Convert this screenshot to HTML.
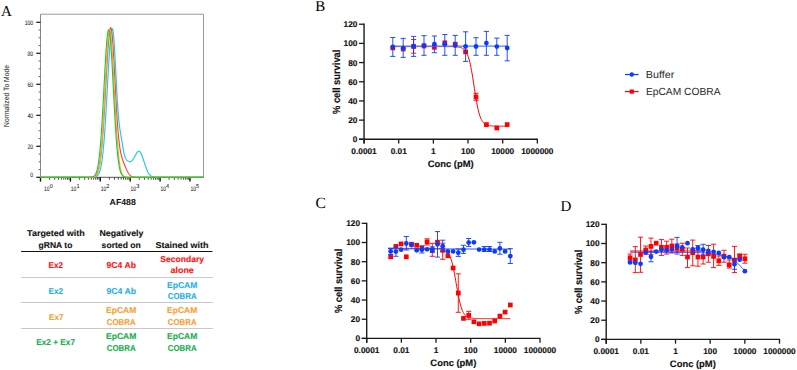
<!DOCTYPE html>
<html><head><meta charset="utf-8"><style>
html,body{margin:0;padding:0;background:#fff;}
svg{display:block;}
text{text-rendering:geometricPrecision;}
</style></head><body>
<svg width="797" height="370" viewBox="0 0 797 370">
<rect width="797" height="370" fill="#fff"/>
<text x="1.00" y="16.20" font-size="15" font-family='"Liberation Serif", serif' fill="#000">A</text>
<text x="315.30" y="10.70" font-size="15" font-family='"Liberation Serif", serif' fill="#000">B</text>
<text x="315.40" y="207.50" font-size="15.5" font-family='"Liberation Serif", serif' fill="#000">C</text>
<text x="560.60" y="211.20" font-size="15" font-family='"Liberation Serif", serif' fill="#000">D</text>
<line x1="40.50" y1="14.20" x2="203.50" y2="14.20" stroke="#9a9a9a" stroke-width="1"/>
<line x1="203.50" y1="14.20" x2="203.50" y2="177.30" stroke="#9a9a9a" stroke-width="1"/>
<line x1="40.50" y1="14.20" x2="40.50" y2="177.80" stroke="#8a8a8a" stroke-width="1"/>
<line x1="40.50" y1="177.30" x2="203.50" y2="177.30" stroke="#555" stroke-width="1"/>
<line x1="36.30" y1="177.30" x2="40.50" y2="177.30" stroke="#111" stroke-width="1.2"/>
<text x="33.20" y="177.20" font-size="6.6" font-family='"Liberation Sans", sans-serif' fill="#000" text-anchor="end" textLength="2.85" lengthAdjust="spacingAndGlyphs">0</text>
<line x1="38.50" y1="169.55" x2="40.50" y2="169.55" stroke="#444" stroke-width="0.8"/>
<line x1="38.50" y1="161.80" x2="40.50" y2="161.80" stroke="#444" stroke-width="0.8"/>
<line x1="38.50" y1="154.05" x2="40.50" y2="154.05" stroke="#444" stroke-width="0.8"/>
<line x1="36.30" y1="146.30" x2="40.50" y2="146.30" stroke="#111" stroke-width="1.2"/>
<text x="33.20" y="148.60" font-size="6.6" font-family='"Liberation Sans", sans-serif' fill="#000" text-anchor="end" textLength="5.70" lengthAdjust="spacingAndGlyphs">20</text>
<line x1="38.50" y1="138.55" x2="40.50" y2="138.55" stroke="#444" stroke-width="0.8"/>
<line x1="38.50" y1="130.80" x2="40.50" y2="130.80" stroke="#444" stroke-width="0.8"/>
<line x1="38.50" y1="123.05" x2="40.50" y2="123.05" stroke="#444" stroke-width="0.8"/>
<line x1="36.30" y1="115.30" x2="40.50" y2="115.30" stroke="#111" stroke-width="1.2"/>
<text x="33.20" y="117.60" font-size="6.6" font-family='"Liberation Sans", sans-serif' fill="#000" text-anchor="end" textLength="5.70" lengthAdjust="spacingAndGlyphs">40</text>
<line x1="38.50" y1="107.55" x2="40.50" y2="107.55" stroke="#444" stroke-width="0.8"/>
<line x1="38.50" y1="99.80" x2="40.50" y2="99.80" stroke="#444" stroke-width="0.8"/>
<line x1="38.50" y1="92.05" x2="40.50" y2="92.05" stroke="#444" stroke-width="0.8"/>
<line x1="36.30" y1="84.30" x2="40.50" y2="84.30" stroke="#111" stroke-width="1.2"/>
<text x="33.20" y="86.60" font-size="6.6" font-family='"Liberation Sans", sans-serif' fill="#000" text-anchor="end" textLength="5.70" lengthAdjust="spacingAndGlyphs">60</text>
<line x1="38.50" y1="76.55" x2="40.50" y2="76.55" stroke="#444" stroke-width="0.8"/>
<line x1="38.50" y1="68.80" x2="40.50" y2="68.80" stroke="#444" stroke-width="0.8"/>
<line x1="38.50" y1="61.05" x2="40.50" y2="61.05" stroke="#444" stroke-width="0.8"/>
<line x1="36.30" y1="53.30" x2="40.50" y2="53.30" stroke="#111" stroke-width="1.2"/>
<text x="33.20" y="55.60" font-size="6.6" font-family='"Liberation Sans", sans-serif' fill="#000" text-anchor="end" textLength="5.70" lengthAdjust="spacingAndGlyphs">80</text>
<line x1="38.50" y1="45.55" x2="40.50" y2="45.55" stroke="#444" stroke-width="0.8"/>
<line x1="38.50" y1="37.80" x2="40.50" y2="37.80" stroke="#444" stroke-width="0.8"/>
<line x1="38.50" y1="30.05" x2="40.50" y2="30.05" stroke="#444" stroke-width="0.8"/>
<line x1="36.30" y1="22.30" x2="40.50" y2="22.30" stroke="#111" stroke-width="1.2"/>
<text x="33.20" y="24.60" font-size="6.6" font-family='"Liberation Sans", sans-serif' fill="#000" text-anchor="end" textLength="8.55" lengthAdjust="spacingAndGlyphs">100</text>
<line x1="40.50" y1="177.30" x2="40.50" y2="181.60" stroke="#111" stroke-width="1.4"/>
<line x1="49.50" y1="177.30" x2="49.50" y2="179.70" stroke="#333" stroke-width="0.9"/>
<line x1="54.77" y1="177.30" x2="54.77" y2="179.70" stroke="#333" stroke-width="0.9"/>
<line x1="58.50" y1="177.30" x2="58.50" y2="179.70" stroke="#333" stroke-width="0.9"/>
<line x1="61.40" y1="177.30" x2="61.40" y2="179.70" stroke="#333" stroke-width="0.9"/>
<line x1="63.77" y1="177.30" x2="63.77" y2="179.70" stroke="#333" stroke-width="0.9"/>
<line x1="65.77" y1="177.30" x2="65.77" y2="179.70" stroke="#333" stroke-width="0.9"/>
<line x1="67.50" y1="177.30" x2="67.50" y2="179.70" stroke="#333" stroke-width="0.9"/>
<line x1="69.03" y1="177.30" x2="69.03" y2="179.70" stroke="#333" stroke-width="0.9"/>
<text x="44.10" y="191.30" font-size="6.6" font-family='"Liberation Sans", sans-serif' fill="#000" textLength="5.50" lengthAdjust="spacingAndGlyphs">10</text>
<text x="49.70" y="187.60" font-size="5.8" font-family='"Liberation Sans", sans-serif' fill="#000" textLength="3.10" lengthAdjust="spacingAndGlyphs">0</text>
<line x1="70.40" y1="177.30" x2="70.40" y2="181.60" stroke="#111" stroke-width="1.4"/>
<line x1="79.40" y1="177.30" x2="79.40" y2="179.70" stroke="#333" stroke-width="0.9"/>
<line x1="84.67" y1="177.30" x2="84.67" y2="179.70" stroke="#333" stroke-width="0.9"/>
<line x1="88.40" y1="177.30" x2="88.40" y2="179.70" stroke="#333" stroke-width="0.9"/>
<line x1="91.30" y1="177.30" x2="91.30" y2="179.70" stroke="#333" stroke-width="0.9"/>
<line x1="93.67" y1="177.30" x2="93.67" y2="179.70" stroke="#333" stroke-width="0.9"/>
<line x1="95.67" y1="177.30" x2="95.67" y2="179.70" stroke="#333" stroke-width="0.9"/>
<line x1="97.40" y1="177.30" x2="97.40" y2="179.70" stroke="#333" stroke-width="0.9"/>
<line x1="98.93" y1="177.30" x2="98.93" y2="179.70" stroke="#333" stroke-width="0.9"/>
<text x="70.80" y="191.30" font-size="6.6" font-family='"Liberation Sans", sans-serif' fill="#000" textLength="5.50" lengthAdjust="spacingAndGlyphs">10</text>
<text x="76.40" y="187.60" font-size="5.8" font-family='"Liberation Sans", sans-serif' fill="#000" textLength="3.10" lengthAdjust="spacingAndGlyphs">1</text>
<line x1="100.30" y1="177.30" x2="100.30" y2="181.60" stroke="#111" stroke-width="1.4"/>
<line x1="109.30" y1="177.30" x2="109.30" y2="179.70" stroke="#333" stroke-width="0.9"/>
<line x1="114.57" y1="177.30" x2="114.57" y2="179.70" stroke="#333" stroke-width="0.9"/>
<line x1="118.30" y1="177.30" x2="118.30" y2="179.70" stroke="#333" stroke-width="0.9"/>
<line x1="121.20" y1="177.30" x2="121.20" y2="179.70" stroke="#333" stroke-width="0.9"/>
<line x1="123.57" y1="177.30" x2="123.57" y2="179.70" stroke="#333" stroke-width="0.9"/>
<line x1="125.57" y1="177.30" x2="125.57" y2="179.70" stroke="#333" stroke-width="0.9"/>
<line x1="127.30" y1="177.30" x2="127.30" y2="179.70" stroke="#333" stroke-width="0.9"/>
<line x1="128.83" y1="177.30" x2="128.83" y2="179.70" stroke="#333" stroke-width="0.9"/>
<text x="100.70" y="191.30" font-size="6.6" font-family='"Liberation Sans", sans-serif' fill="#000" textLength="5.50" lengthAdjust="spacingAndGlyphs">10</text>
<text x="106.30" y="187.60" font-size="5.8" font-family='"Liberation Sans", sans-serif' fill="#000" textLength="3.10" lengthAdjust="spacingAndGlyphs">2</text>
<line x1="130.20" y1="177.30" x2="130.20" y2="181.60" stroke="#111" stroke-width="1.4"/>
<line x1="139.20" y1="177.30" x2="139.20" y2="179.70" stroke="#333" stroke-width="0.9"/>
<line x1="144.47" y1="177.30" x2="144.47" y2="179.70" stroke="#333" stroke-width="0.9"/>
<line x1="148.20" y1="177.30" x2="148.20" y2="179.70" stroke="#333" stroke-width="0.9"/>
<line x1="151.10" y1="177.30" x2="151.10" y2="179.70" stroke="#333" stroke-width="0.9"/>
<line x1="153.47" y1="177.30" x2="153.47" y2="179.70" stroke="#333" stroke-width="0.9"/>
<line x1="155.47" y1="177.30" x2="155.47" y2="179.70" stroke="#333" stroke-width="0.9"/>
<line x1="157.20" y1="177.30" x2="157.20" y2="179.70" stroke="#333" stroke-width="0.9"/>
<line x1="158.73" y1="177.30" x2="158.73" y2="179.70" stroke="#333" stroke-width="0.9"/>
<text x="130.60" y="191.30" font-size="6.6" font-family='"Liberation Sans", sans-serif' fill="#000" textLength="5.50" lengthAdjust="spacingAndGlyphs">10</text>
<text x="136.20" y="187.60" font-size="5.8" font-family='"Liberation Sans", sans-serif' fill="#000" textLength="3.10" lengthAdjust="spacingAndGlyphs">3</text>
<line x1="160.10" y1="177.30" x2="160.10" y2="181.60" stroke="#111" stroke-width="1.4"/>
<line x1="169.10" y1="177.30" x2="169.10" y2="179.70" stroke="#333" stroke-width="0.9"/>
<line x1="174.37" y1="177.30" x2="174.37" y2="179.70" stroke="#333" stroke-width="0.9"/>
<line x1="178.10" y1="177.30" x2="178.10" y2="179.70" stroke="#333" stroke-width="0.9"/>
<line x1="181.00" y1="177.30" x2="181.00" y2="179.70" stroke="#333" stroke-width="0.9"/>
<line x1="183.37" y1="177.30" x2="183.37" y2="179.70" stroke="#333" stroke-width="0.9"/>
<line x1="185.37" y1="177.30" x2="185.37" y2="179.70" stroke="#333" stroke-width="0.9"/>
<line x1="187.10" y1="177.30" x2="187.10" y2="179.70" stroke="#333" stroke-width="0.9"/>
<line x1="188.63" y1="177.30" x2="188.63" y2="179.70" stroke="#333" stroke-width="0.9"/>
<text x="160.50" y="191.30" font-size="6.6" font-family='"Liberation Sans", sans-serif' fill="#000" textLength="5.50" lengthAdjust="spacingAndGlyphs">10</text>
<text x="166.10" y="187.60" font-size="5.8" font-family='"Liberation Sans", sans-serif' fill="#000" textLength="3.10" lengthAdjust="spacingAndGlyphs">4</text>
<line x1="190.00" y1="177.30" x2="190.00" y2="181.60" stroke="#111" stroke-width="1.4"/>
<text x="190.40" y="191.30" font-size="6.6" font-family='"Liberation Sans", sans-serif' fill="#000" textLength="5.50" lengthAdjust="spacingAndGlyphs">10</text>
<text x="196.00" y="187.60" font-size="5.8" font-family='"Liberation Sans", sans-serif' fill="#000" textLength="3.10" lengthAdjust="spacingAndGlyphs">5</text>
<polyline points="40.50,177.30 41.00,177.30 41.50,177.30 42.00,177.30 42.50,177.30 43.00,177.30 43.50,177.30 44.00,177.30 44.50,177.30 45.00,177.30 45.50,177.30 46.00,177.30 46.50,177.30 47.00,177.30 47.50,177.30 48.00,177.30 48.50,177.30 49.00,177.30 49.50,177.30 50.00,177.30 50.50,177.30 51.00,177.30 51.50,177.30 52.00,177.30 52.50,177.30 53.00,177.30 53.50,177.30 54.00,177.30 54.50,177.30 55.00,177.30 55.50,177.30 56.00,177.30 56.50,177.30 57.00,177.30 57.50,177.30 58.00,177.30 58.50,177.30 59.00,177.30 59.50,177.30 60.00,177.30 60.50,177.30 61.00,177.30 61.50,177.30 62.00,177.30 62.50,177.30 63.00,177.30 63.50,177.30 64.00,177.30 64.50,177.30 65.00,177.30 65.50,177.30 66.00,177.30 66.50,177.30 67.00,177.30 67.50,177.30 68.00,177.30 68.50,177.30 69.00,177.30 69.50,177.30 70.00,177.30 70.50,177.30 71.00,177.30 71.50,177.30 72.00,177.30 72.50,177.30 73.00,177.30 73.50,177.30 74.00,177.30 74.50,177.30 75.00,177.30 75.50,177.30 76.00,177.30 76.50,177.30 77.00,177.30 77.50,177.30 78.00,177.30 78.50,177.30 79.00,177.30 79.50,177.30 80.00,177.30 80.50,177.30 81.00,177.30 81.50,177.30 82.00,177.30 82.50,177.30 83.00,177.30 83.50,177.30 84.00,177.30 84.50,177.30 85.00,177.30 85.50,177.30 86.00,177.30 86.50,177.30 87.00,177.30 87.50,177.30 88.00,177.30 88.50,177.30 89.00,177.30 89.50,177.30 90.00,177.29 90.50,177.29 91.00,177.29 91.50,177.28 92.00,177.27 92.50,177.25 93.00,177.23 93.50,177.20 94.00,177.15 94.50,177.09 95.00,176.99 95.50,176.86 96.00,176.68 96.50,176.44 97.00,176.11 97.50,175.68 98.00,175.11 98.50,174.37 99.00,173.43 99.50,172.23 100.00,170.73 100.50,168.88 101.00,166.61 101.50,163.87 102.00,160.61 102.50,156.76 103.00,152.29 103.50,147.16 104.00,141.36 104.50,134.87 105.00,127.74 105.50,119.99 106.00,111.72 106.50,103.03 107.00,94.05 107.50,84.94 108.00,75.89 108.50,67.08 109.00,58.73 109.50,51.05 110.00,44.24 110.50,38.47 111.00,33.91 111.50,30.68 112.00,28.87 112.50,28.66 113.00,30.61 113.50,34.65 114.00,40.58 114.50,48.07 115.00,56.75 115.50,66.19 116.00,75.97 116.50,85.64 117.00,94.81 117.50,103.18 118.00,110.52 118.50,116.75 119.00,121.91 119.50,126.16 120.00,129.73 120.50,132.89 121.00,135.88 121.50,138.85 122.00,141.88 122.50,144.92 123.00,147.87 123.50,150.63 124.00,153.06 124.50,155.12 125.00,156.78 125.50,158.07 126.00,159.04 126.50,159.78 127.00,160.33 127.50,160.75 128.00,161.08 128.50,161.33 129.00,161.50 129.50,161.60 130.00,161.60 130.50,161.52 131.00,161.32 131.50,161.01 132.00,160.58 132.50,160.04 133.00,159.38 133.50,158.62 134.00,157.78 134.50,156.88 135.00,155.94 135.50,155.01 136.00,154.10 136.50,153.27 137.00,152.54 137.50,151.95 138.00,151.52 138.50,151.29 139.00,151.27 139.50,151.46 140.00,151.89 140.50,152.53 141.00,153.39 141.50,154.44 142.00,155.65 142.50,157.00 143.00,158.46 143.50,159.98 144.00,161.55 144.50,163.12 145.00,164.66 145.50,166.15 146.00,167.56 146.50,168.89 147.00,170.10 147.50,171.21 148.00,172.20 148.50,173.07 149.00,173.83 149.50,174.48 150.00,175.04 150.50,175.50 151.00,175.89 151.50,176.20 152.00,176.45 152.50,176.65 153.00,176.81 153.50,176.94 154.00,177.03 154.50,177.10 155.00,177.16 155.50,177.20 156.00,177.23 156.50,177.25 157.00,177.26 157.50,177.28 158.00,177.28 158.50,177.29 159.00,177.29 159.50,177.30 160.00,177.30 160.50,177.30 161.00,177.30 161.50,177.30 162.00,177.30 162.50,177.30 163.00,177.30 163.50,177.30 164.00,177.30 164.50,177.30 165.00,177.30 165.50,177.30 166.00,177.30 166.50,177.30 167.00,177.30 167.50,177.30 168.00,177.30 168.50,177.30 169.00,177.30 169.50,177.30 170.00,177.30 170.50,177.30 171.00,177.30 171.50,177.30 172.00,177.30 172.50,177.30 173.00,177.30 173.50,177.30 174.00,177.30 174.50,177.30 175.00,177.30 175.50,177.30 176.00,177.30 176.50,177.30 177.00,177.30 177.50,177.30 178.00,177.30 178.50,177.30 179.00,177.30 179.50,177.30 180.00,177.30 180.50,177.30 181.00,177.30 181.50,177.30 182.00,177.30 182.50,177.30 183.00,177.30 183.50,177.30 184.00,177.30 184.50,177.30 185.00,177.30 185.50,177.30 186.00,177.30 186.50,177.30 187.00,177.30 187.50,177.30 188.00,177.30 188.50,177.30 189.00,177.30 189.50,177.30 190.00,177.30 190.50,177.30 191.00,177.30 191.50,177.30 192.00,177.30 192.50,177.30 193.00,177.30 193.50,177.30 194.00,177.30 194.50,177.30 195.00,177.30 195.50,177.30 196.00,177.30 196.50,177.30 197.00,177.30 197.50,177.30 198.00,177.30 198.50,177.30 199.00,177.30 199.50,177.30 200.00,177.30 200.50,177.30 201.00,177.30 201.50,177.30 202.00,177.30 202.50,177.30 203.00,177.30 203.50,177.30" fill="none" stroke="#1ec8f0" stroke-width="1.15" stroke-linejoin="round"/>
<polyline points="40.50,177.30 41.00,177.30 41.50,177.30 42.00,177.30 42.50,177.30 43.00,177.30 43.50,177.30 44.00,177.30 44.50,177.30 45.00,177.30 45.50,177.30 46.00,177.30 46.50,177.30 47.00,177.30 47.50,177.30 48.00,177.30 48.50,177.30 49.00,177.30 49.50,177.30 50.00,177.30 50.50,177.30 51.00,177.30 51.50,177.30 52.00,177.30 52.50,177.30 53.00,177.30 53.50,177.30 54.00,177.30 54.50,177.30 55.00,177.30 55.50,177.30 56.00,177.30 56.50,177.30 57.00,177.30 57.50,177.30 58.00,177.30 58.50,177.30 59.00,177.30 59.50,177.30 60.00,177.30 60.50,177.30 61.00,177.30 61.50,177.30 62.00,177.30 62.50,177.30 63.00,177.30 63.50,177.30 64.00,177.30 64.50,177.30 65.00,177.30 65.50,177.30 66.00,177.30 66.50,177.30 67.00,177.30 67.50,177.30 68.00,177.30 68.50,177.30 69.00,177.30 69.50,177.30 70.00,177.30 70.50,177.30 71.00,177.30 71.50,177.30 72.00,177.30 72.50,177.30 73.00,177.30 73.50,177.30 74.00,177.30 74.50,177.30 75.00,177.30 75.50,177.30 76.00,177.30 76.50,177.30 77.00,177.30 77.50,177.30 78.00,177.30 78.50,177.30 79.00,177.30 79.50,177.30 80.00,177.30 80.50,177.30 81.00,177.30 81.50,177.30 82.00,177.30 82.50,177.30 83.00,177.30 83.50,177.30 84.00,177.30 84.50,177.30 85.00,177.30 85.50,177.30 86.00,177.30 86.50,177.30 87.00,177.30 87.50,177.30 88.00,177.30 88.50,177.29 89.00,177.29 89.50,177.28 90.00,177.27 90.50,177.26 91.00,177.24 91.50,177.21 92.00,177.16 92.50,177.10 93.00,177.02 93.50,176.90 94.00,176.74 94.50,176.52 95.00,176.22 95.50,175.83 96.00,175.32 96.50,174.65 97.00,173.80 97.50,172.72 98.00,171.37 98.50,169.69 99.00,167.64 99.50,165.15 100.00,162.18 100.50,158.67 101.00,154.56 101.50,149.83 102.00,144.45 102.50,138.40 103.00,131.70 103.50,124.37 104.00,116.48 104.50,108.10 105.00,99.35 105.50,90.38 106.00,81.32 106.50,72.38 107.00,63.75 107.50,55.62 108.00,48.20 108.50,41.69 109.00,36.25 109.50,32.03 110.00,29.16 110.50,27.70 111.00,27.77 111.50,29.71 112.00,33.46 112.50,38.87 113.00,45.69 113.50,53.68 114.00,62.51 114.50,71.88 115.00,81.49 115.50,91.05 116.00,100.29 116.50,109.03 117.00,117.09 117.50,124.38 118.00,130.83 118.50,136.45 119.00,141.26 119.50,145.33 120.00,148.75 120.50,151.60 121.00,153.99 121.50,156.03 122.00,157.79 122.50,159.36 123.00,160.81 123.50,162.17 124.00,163.47 124.50,164.75 125.00,165.99 125.50,167.21 126.00,168.38 126.50,169.51 127.00,170.57 127.50,171.56 128.00,172.46 128.50,173.28 129.00,174.00 129.50,174.63 130.00,175.16 130.50,175.61 131.00,175.99 131.50,176.29 132.00,176.54 132.50,176.73 133.00,176.88 133.50,177.00 134.00,177.08 134.50,177.15 135.00,177.19 135.50,177.23 136.00,177.25 136.50,177.27 137.00,177.28 137.50,177.29 138.00,177.29 138.50,177.29 139.00,177.30 139.50,177.30 140.00,177.30 140.50,177.30 141.00,177.30 141.50,177.30 142.00,177.30 142.50,177.30 143.00,177.30 143.50,177.30 144.00,177.30 144.50,177.30 145.00,177.30 145.50,177.30 146.00,177.30 146.50,177.30 147.00,177.30 147.50,177.30 148.00,177.30 148.50,177.30 149.00,177.30 149.50,177.30 150.00,177.30 150.50,177.30 151.00,177.30 151.50,177.30 152.00,177.30 152.50,177.30 153.00,177.30 153.50,177.30 154.00,177.30 154.50,177.30 155.00,177.30 155.50,177.30 156.00,177.30 156.50,177.30 157.00,177.30 157.50,177.30 158.00,177.30 158.50,177.30 159.00,177.30 159.50,177.30 160.00,177.30 160.50,177.30 161.00,177.30 161.50,177.30 162.00,177.30 162.50,177.30 163.00,177.30 163.50,177.30 164.00,177.30 164.50,177.30 165.00,177.30 165.50,177.30 166.00,177.30 166.50,177.30 167.00,177.30 167.50,177.30 168.00,177.30 168.50,177.30 169.00,177.30 169.50,177.30 170.00,177.30 170.50,177.30 171.00,177.30 171.50,177.30 172.00,177.30 172.50,177.30 173.00,177.30 173.50,177.30 174.00,177.30 174.50,177.30 175.00,177.30 175.50,177.30 176.00,177.30 176.50,177.30 177.00,177.30 177.50,177.30 178.00,177.30 178.50,177.30 179.00,177.30 179.50,177.30 180.00,177.30 180.50,177.30 181.00,177.30 181.50,177.30 182.00,177.30 182.50,177.30 183.00,177.30 183.50,177.30 184.00,177.30 184.50,177.30 185.00,177.30 185.50,177.30 186.00,177.30 186.50,177.30 187.00,177.30 187.50,177.30 188.00,177.30 188.50,177.30 189.00,177.30 189.50,177.30 190.00,177.30 190.50,177.30 191.00,177.30 191.50,177.30 192.00,177.30 192.50,177.30 193.00,177.30 193.50,177.30 194.00,177.30 194.50,177.30 195.00,177.30 195.50,177.30 196.00,177.30 196.50,177.30 197.00,177.30 197.50,177.30 198.00,177.30 198.50,177.30 199.00,177.30 199.50,177.30 200.00,177.30 200.50,177.30 201.00,177.30 201.50,177.30 202.00,177.30 202.50,177.30 203.00,177.30 203.50,177.30" fill="none" stroke="#ff4040" stroke-width="1.15" stroke-linejoin="round"/>
<polyline points="40.50,177.30 41.00,177.30 41.50,177.30 42.00,177.30 42.50,177.30 43.00,177.30 43.50,177.30 44.00,177.30 44.50,177.30 45.00,177.30 45.50,177.30 46.00,177.30 46.50,177.30 47.00,177.30 47.50,177.30 48.00,177.30 48.50,177.30 49.00,177.30 49.50,177.30 50.00,177.30 50.50,177.30 51.00,177.30 51.50,177.30 52.00,177.30 52.50,177.30 53.00,177.30 53.50,177.30 54.00,177.30 54.50,177.30 55.00,177.30 55.50,177.30 56.00,177.30 56.50,177.30 57.00,177.30 57.50,177.30 58.00,177.30 58.50,177.30 59.00,177.30 59.50,177.30 60.00,177.30 60.50,177.30 61.00,177.30 61.50,177.30 62.00,177.30 62.50,177.30 63.00,177.30 63.50,177.30 64.00,177.30 64.50,177.30 65.00,177.30 65.50,177.30 66.00,177.30 66.50,177.30 67.00,177.30 67.50,177.30 68.00,177.30 68.50,177.30 69.00,177.30 69.50,177.30 70.00,177.30 70.50,177.30 71.00,177.30 71.50,177.30 72.00,177.30 72.50,177.30 73.00,177.30 73.50,177.30 74.00,177.30 74.50,177.30 75.00,177.30 75.50,177.30 76.00,177.30 76.50,177.30 77.00,177.30 77.50,177.30 78.00,177.30 78.50,177.30 79.00,177.30 79.50,177.30 80.00,177.30 80.50,177.30 81.00,177.30 81.50,177.30 82.00,177.30 82.50,177.30 83.00,177.30 83.50,177.30 84.00,177.30 84.50,177.30 85.00,177.30 85.50,177.30 86.00,177.30 86.50,177.30 87.00,177.30 87.50,177.30 88.00,177.30 88.50,177.30 89.00,177.30 89.50,177.29 90.00,177.29 90.50,177.28 91.00,177.27 91.50,177.26 92.00,177.23 92.50,177.19 93.00,177.14 93.50,177.06 94.00,176.94 94.50,176.78 95.00,176.55 95.50,176.24 96.00,175.80 96.50,175.22 97.00,174.45 97.50,173.43 98.00,172.12 98.50,170.44 99.00,168.34 99.50,165.73 100.00,162.54 100.50,158.71 101.00,154.16 101.50,148.85 102.00,142.75 102.50,135.84 103.00,128.16 103.50,119.77 104.00,110.76 104.50,101.28 105.00,91.50 105.50,81.64 106.00,71.94 106.50,62.66 107.00,54.09 107.50,46.48 108.00,40.10 108.50,35.14 109.00,31.80 109.50,30.19 110.00,30.37 110.50,32.30 111.00,35.92 111.50,41.10 112.00,47.66 112.50,55.38 113.00,64.01 113.50,73.29 114.00,82.96 114.50,92.74 115.00,102.42 115.50,111.79 116.00,120.67 116.50,128.93 117.00,136.48 117.50,143.27 118.00,149.26 118.50,154.48 119.00,158.95 119.50,162.72 120.00,165.85 120.50,168.42 121.00,170.49 121.50,172.15 122.00,173.44 122.50,174.45 123.00,175.22 123.50,175.80 124.00,176.23 124.50,176.55 125.00,176.77 125.50,176.94 126.00,177.05 126.50,177.14 127.00,177.19 127.50,177.23 128.00,177.25 128.50,177.27 129.00,177.28 129.50,177.29 130.00,177.29 130.50,177.30 131.00,177.30 131.50,177.30 132.00,177.30 132.50,177.30 133.00,177.30 133.50,177.30 134.00,177.30 134.50,177.30 135.00,177.30 135.50,177.30 136.00,177.30 136.50,177.30 137.00,177.30 137.50,177.30 138.00,177.30 138.50,177.30 139.00,177.30 139.50,177.30 140.00,177.30 140.50,177.30 141.00,177.30 141.50,177.30 142.00,177.30 142.50,177.30 143.00,177.30 143.50,177.30 144.00,177.30 144.50,177.30 145.00,177.30 145.50,177.30 146.00,177.30 146.50,177.30 147.00,177.30 147.50,177.30 148.00,177.30 148.50,177.30 149.00,177.30 149.50,177.30 150.00,177.30 150.50,177.30 151.00,177.30 151.50,177.30 152.00,177.30 152.50,177.30 153.00,177.30 153.50,177.30 154.00,177.30 154.50,177.30 155.00,177.30 155.50,177.30 156.00,177.30 156.50,177.30 157.00,177.30 157.50,177.30 158.00,177.30 158.50,177.30 159.00,177.30 159.50,177.30 160.00,177.30 160.50,177.30 161.00,177.30 161.50,177.30 162.00,177.30 162.50,177.30 163.00,177.30 163.50,177.30 164.00,177.30 164.50,177.30 165.00,177.30 165.50,177.30 166.00,177.30 166.50,177.30 167.00,177.30 167.50,177.30 168.00,177.30 168.50,177.30 169.00,177.30 169.50,177.30 170.00,177.30 170.50,177.30 171.00,177.30 171.50,177.30 172.00,177.30 172.50,177.30 173.00,177.30 173.50,177.30 174.00,177.30 174.50,177.30 175.00,177.30 175.50,177.30 176.00,177.30 176.50,177.30 177.00,177.30 177.50,177.30 178.00,177.30 178.50,177.30 179.00,177.30 179.50,177.30 180.00,177.30 180.50,177.30 181.00,177.30 181.50,177.30 182.00,177.30 182.50,177.30 183.00,177.30 183.50,177.30 184.00,177.30 184.50,177.30 185.00,177.30 185.50,177.30 186.00,177.30 186.50,177.30 187.00,177.30 187.50,177.30 188.00,177.30 188.50,177.30 189.00,177.30 189.50,177.30 190.00,177.30 190.50,177.30 191.00,177.30 191.50,177.30 192.00,177.30 192.50,177.30 193.00,177.30 193.50,177.30 194.00,177.30 194.50,177.30 195.00,177.30 195.50,177.30 196.00,177.30 196.50,177.30 197.00,177.30 197.50,177.30 198.00,177.30 198.50,177.30 199.00,177.30 199.50,177.30 200.00,177.30 200.50,177.30 201.00,177.30 201.50,177.30 202.00,177.30 202.50,177.30 203.00,177.30 203.50,177.30" fill="none" stroke="#f7a84a" stroke-width="1.15" stroke-linejoin="round"/>
<polyline points="40.50,177.30 41.00,177.30 41.50,177.30 42.00,177.30 42.50,177.30 43.00,177.30 43.50,177.30 44.00,177.30 44.50,177.30 45.00,177.30 45.50,177.30 46.00,177.30 46.50,177.30 47.00,177.30 47.50,177.30 48.00,177.30 48.50,177.30 49.00,177.30 49.50,177.30 50.00,177.30 50.50,177.30 51.00,177.30 51.50,177.30 52.00,177.30 52.50,177.30 53.00,177.30 53.50,177.30 54.00,177.30 54.50,177.30 55.00,177.30 55.50,177.30 56.00,177.30 56.50,177.30 57.00,177.30 57.50,177.30 58.00,177.30 58.50,177.30 59.00,177.30 59.50,177.30 60.00,177.30 60.50,177.30 61.00,177.30 61.50,177.30 62.00,177.30 62.50,177.30 63.00,177.30 63.50,177.30 64.00,177.30 64.50,177.30 65.00,177.30 65.50,177.30 66.00,177.30 66.50,177.30 67.00,177.30 67.50,177.30 68.00,177.30 68.50,177.30 69.00,177.30 69.50,177.30 70.00,177.30 70.50,177.30 71.00,177.30 71.50,177.30 72.00,177.30 72.50,177.30 73.00,177.30 73.50,177.30 74.00,177.30 74.50,177.30 75.00,177.30 75.50,177.30 76.00,177.30 76.50,177.30 77.00,177.30 77.50,177.30 78.00,177.30 78.50,177.30 79.00,177.30 79.50,177.30 80.00,177.30 80.50,177.30 81.00,177.30 81.50,177.30 82.00,177.30 82.50,177.30 83.00,177.30 83.50,177.30 84.00,177.30 84.50,177.30 85.00,177.30 85.50,177.30 86.00,177.30 86.50,177.30 87.00,177.30 87.50,177.29 88.00,177.29 88.50,177.28 89.00,177.28 89.50,177.26 90.00,177.24 90.50,177.21 91.00,177.17 91.50,177.10 92.00,177.01 92.50,176.88 93.00,176.71 93.50,176.46 94.00,176.13 94.50,175.68 95.00,175.09 95.50,174.31 96.00,173.31 96.50,172.02 97.00,170.40 97.50,168.39 98.00,165.91 98.50,162.91 99.00,159.32 99.50,155.09 100.00,150.16 100.50,144.51 101.00,138.12 101.50,131.01 102.00,123.22 102.50,114.82 103.00,105.92 103.50,96.66 104.00,87.21 104.50,77.77 105.00,68.57 105.50,59.84 106.00,51.82 106.50,44.75 107.00,38.84 107.50,34.27 108.00,31.20 108.50,29.72 109.00,29.90 109.50,31.79 110.00,35.35 110.50,40.43 111.00,46.88 111.50,54.48 112.00,62.99 112.50,72.16 113.00,81.72 113.50,91.43 114.00,101.06 114.50,110.40 115.00,119.28 115.50,127.57 116.00,135.18 116.50,142.04 117.00,148.13 117.50,153.45 118.00,158.02 118.50,161.91 119.00,165.15 119.50,167.82 120.00,169.99 120.50,171.73 121.00,173.11 121.50,174.18 122.00,175.01 122.50,175.63 123.00,176.10 123.50,176.45 124.00,176.70 124.50,176.89 125.00,177.02 125.50,177.11 126.00,177.17 126.50,177.21 127.00,177.24 127.50,177.26 128.00,177.28 128.50,177.29 129.00,177.29 129.50,177.29 130.00,177.30 130.50,177.30 131.00,177.30 131.50,177.30 132.00,177.30 132.50,177.30 133.00,177.30 133.50,177.30 134.00,177.30 134.50,177.30 135.00,177.30 135.50,177.30 136.00,177.30 136.50,177.30 137.00,177.30 137.50,177.30 138.00,177.30 138.50,177.30 139.00,177.30 139.50,177.30 140.00,177.30 140.50,177.30 141.00,177.30 141.50,177.30 142.00,177.30 142.50,177.30 143.00,177.30 143.50,177.30 144.00,177.30 144.50,177.30 145.00,177.30 145.50,177.30 146.00,177.30 146.50,177.30 147.00,177.30 147.50,177.30 148.00,177.30 148.50,177.30 149.00,177.30 149.50,177.30 150.00,177.30 150.50,177.30 151.00,177.30 151.50,177.30 152.00,177.30 152.50,177.30 153.00,177.30 153.50,177.30 154.00,177.30 154.50,177.30 155.00,177.30 155.50,177.30 156.00,177.30 156.50,177.30 157.00,177.30 157.50,177.30 158.00,177.30 158.50,177.30 159.00,177.30 159.50,177.30 160.00,177.30 160.50,177.30 161.00,177.30 161.50,177.30 162.00,177.30 162.50,177.30 163.00,177.30 163.50,177.30 164.00,177.30 164.50,177.30 165.00,177.30 165.50,177.30 166.00,177.30 166.50,177.30 167.00,177.30 167.50,177.30 168.00,177.30 168.50,177.30 169.00,177.30 169.50,177.30 170.00,177.30 170.50,177.30 171.00,177.30 171.50,177.30 172.00,177.30 172.50,177.30 173.00,177.30 173.50,177.30 174.00,177.30 174.50,177.30 175.00,177.30 175.50,177.30 176.00,177.30 176.50,177.30 177.00,177.30 177.50,177.30 178.00,177.30 178.50,177.30 179.00,177.30 179.50,177.30 180.00,177.30 180.50,177.30 181.00,177.30 181.50,177.30 182.00,177.30 182.50,177.30 183.00,177.30 183.50,177.30 184.00,177.30 184.50,177.30 185.00,177.30 185.50,177.30 186.00,177.30 186.50,177.30 187.00,177.30 187.50,177.30 188.00,177.30 188.50,177.30 189.00,177.30 189.50,177.30 190.00,177.30 190.50,177.30 191.00,177.30 191.50,177.30 192.00,177.30 192.50,177.30 193.00,177.30 193.50,177.30 194.00,177.30 194.50,177.30 195.00,177.30 195.50,177.30 196.00,177.30 196.50,177.30 197.00,177.30 197.50,177.30 198.00,177.30 198.50,177.30 199.00,177.30 199.50,177.30 200.00,177.30 200.50,177.30 201.00,177.30 201.50,177.30 202.00,177.30 202.50,177.30 203.00,177.30 203.50,177.30" fill="none" stroke="#22cc22" stroke-width="1.15" stroke-linejoin="round"/>
<text x="109.60" y="205.00" font-size="8.7" font-family='"Liberation Sans", sans-serif' font-weight="bold" fill="#111" textLength="26.20" lengthAdjust="spacingAndGlyphs">AF488</text>
<text x="8.70" y="96.00" font-size="7.6" font-family='"Liberation Sans", sans-serif' fill="#222" text-anchor="middle" textLength="62.00" lengthAdjust="spacingAndGlyphs" transform="rotate(-90 8.7 96)">Normalized To Mode</text>
<line x1="21.10" y1="251.50" x2="212.40" y2="251.50" stroke="#111" stroke-width="1"/>
<line x1="21.10" y1="277.50" x2="212.80" y2="277.50" stroke="#c8c8c8" stroke-width="1"/>
<line x1="21.10" y1="302.50" x2="212.80" y2="302.50" stroke="#c8c8c8" stroke-width="1"/>
<line x1="21.10" y1="328.50" x2="212.80" y2="328.50" stroke="#c8c8c8" stroke-width="1"/>
<text x="27.10" y="235.70" font-size="8.5" font-family='"Liberation Sans", sans-serif' font-weight="bold" fill="#111" stroke="#111" stroke-width="0.12" textLength="57.60" lengthAdjust="spacingAndGlyphs">Targeted with</text>
<text x="38.60" y="248.20" font-size="8.5" font-family='"Liberation Sans", sans-serif' font-weight="bold" fill="#111" stroke="#111" stroke-width="0.12" textLength="33.80" lengthAdjust="spacingAndGlyphs">gRNA to</text>
<text x="99.40" y="235.70" font-size="8.5" font-family='"Liberation Sans", sans-serif' font-weight="bold" fill="#111" stroke="#111" stroke-width="0.12" textLength="44.00" lengthAdjust="spacingAndGlyphs">Negatively</text>
<text x="101.60" y="248.20" font-size="8.5" font-family='"Liberation Sans", sans-serif' font-weight="bold" fill="#111" stroke="#111" stroke-width="0.12" textLength="39.20" lengthAdjust="spacingAndGlyphs">sorted on</text>
<text x="155.50" y="248.20" font-size="8.5" font-family='"Liberation Sans", sans-serif' font-weight="bold" fill="#111" stroke="#111" stroke-width="0.12" textLength="52.90" lengthAdjust="spacingAndGlyphs">Stained with</text>
<text x="48.60" y="268.00" font-size="8.5" font-family='"Liberation Sans", sans-serif' font-weight="bold" fill="#ff1010" stroke="#ff1010" stroke-width="0.12" textLength="14.40" lengthAdjust="spacingAndGlyphs">Ex2</text>
<text x="106.45" y="268.00" font-size="8.5" font-family='"Liberation Sans", sans-serif' font-weight="bold" fill="#ff1010" stroke="#ff1010" stroke-width="0.12" textLength="29.50" lengthAdjust="spacingAndGlyphs">9C4 Ab</text>
<text x="160.30" y="262.20" font-size="8.5" font-family='"Liberation Sans", sans-serif' font-weight="bold" fill="#ff1010" stroke="#ff1010" stroke-width="0.12" textLength="43.70" lengthAdjust="spacingAndGlyphs">Secondary</text>
<text x="170.50" y="273.30" font-size="8.5" font-family='"Liberation Sans", sans-serif' font-weight="bold" fill="#ff1010" stroke="#ff1010" stroke-width="0.12" textLength="23.30" lengthAdjust="spacingAndGlyphs">alone</text>
<text x="48.60" y="293.80" font-size="8.5" font-family='"Liberation Sans", sans-serif' font-weight="bold" fill="#1fb2ea" stroke="#1fb2ea" stroke-width="0.12" textLength="14.40" lengthAdjust="spacingAndGlyphs">Ex2</text>
<text x="106.45" y="293.80" font-size="8.5" font-family='"Liberation Sans", sans-serif' font-weight="bold" fill="#1fb2ea" stroke="#1fb2ea" stroke-width="0.12" textLength="29.50" lengthAdjust="spacingAndGlyphs">9C4 Ab</text>
<text x="167.00" y="287.50" font-size="8.5" font-family='"Liberation Sans", sans-serif' font-weight="bold" fill="#1fb2ea" stroke="#1fb2ea" stroke-width="0.12" textLength="30.40" lengthAdjust="spacingAndGlyphs">EpCAM</text>
<text x="167.80" y="299.30" font-size="8.5" font-family='"Liberation Sans", sans-serif' font-weight="bold" fill="#1fb2ea" stroke="#1fb2ea" stroke-width="0.12" textLength="28.80" lengthAdjust="spacingAndGlyphs">COBRA</text>
<text x="49.00" y="319.60" font-size="8.5" font-family='"Liberation Sans", sans-serif' font-weight="bold" fill="#f8a035" stroke="#f8a035" stroke-width="0.12" textLength="14.40" lengthAdjust="spacingAndGlyphs">Ex7</text>
<text x="106.00" y="312.80" font-size="8.5" font-family='"Liberation Sans", sans-serif' font-weight="bold" fill="#f8a035" stroke="#f8a035" stroke-width="0.12" textLength="30.40" lengthAdjust="spacingAndGlyphs">EpCAM</text>
<text x="106.80" y="324.60" font-size="8.5" font-family='"Liberation Sans", sans-serif' font-weight="bold" fill="#f8a035" stroke="#f8a035" stroke-width="0.12" textLength="28.80" lengthAdjust="spacingAndGlyphs">COBRA</text>
<text x="167.00" y="312.80" font-size="8.5" font-family='"Liberation Sans", sans-serif' font-weight="bold" fill="#f8a035" stroke="#f8a035" stroke-width="0.12" textLength="30.40" lengthAdjust="spacingAndGlyphs">EpCAM</text>
<text x="167.80" y="324.60" font-size="8.5" font-family='"Liberation Sans", sans-serif' font-weight="bold" fill="#f8a035" stroke="#f8a035" stroke-width="0.12" textLength="28.80" lengthAdjust="spacingAndGlyphs">COBRA</text>
<text x="36.30" y="344.80" font-size="8.5" font-family='"Liberation Sans", sans-serif' font-weight="bold" fill="#19b04f" stroke="#19b04f" stroke-width="0.12" textLength="38.70" lengthAdjust="spacingAndGlyphs">Ex2 + Ex7</text>
<text x="106.00" y="339.00" font-size="8.5" font-family='"Liberation Sans", sans-serif' font-weight="bold" fill="#19b04f" stroke="#19b04f" stroke-width="0.12" textLength="30.40" lengthAdjust="spacingAndGlyphs">EpCAM</text>
<text x="106.80" y="350.80" font-size="8.5" font-family='"Liberation Sans", sans-serif' font-weight="bold" fill="#19b04f" stroke="#19b04f" stroke-width="0.12" textLength="28.80" lengthAdjust="spacingAndGlyphs">COBRA</text>
<text x="167.00" y="339.00" font-size="8.5" font-family='"Liberation Sans", sans-serif' font-weight="bold" fill="#19b04f" stroke="#19b04f" stroke-width="0.12" textLength="30.40" lengthAdjust="spacingAndGlyphs">EpCAM</text>
<text x="167.80" y="350.80" font-size="8.5" font-family='"Liberation Sans", sans-serif' font-weight="bold" fill="#19b04f" stroke="#19b04f" stroke-width="0.12" textLength="28.80" lengthAdjust="spacingAndGlyphs">COBRA</text>
<line x1="364.05" y1="23.62" x2="364.05" y2="143.60" stroke="#1a1a1a" stroke-width="1.4"/>
<line x1="359.05" y1="139.30" x2="537.95" y2="139.30" stroke="#1a1a1a" stroke-width="1.4"/>
<line x1="359.05" y1="139.30" x2="364.05" y2="139.30" stroke="#1a1a1a" stroke-width="1.3"/>
<text x="357.45" y="142.25" font-size="8.3" font-family='"Liberation Sans", sans-serif' font-weight="bold" fill="#111" stroke="#111" stroke-width="0.15" text-anchor="end">0</text>
<line x1="359.05" y1="120.12" x2="364.05" y2="120.12" stroke="#1a1a1a" stroke-width="1.3"/>
<text x="357.45" y="123.07" font-size="8.3" font-family='"Liberation Sans", sans-serif' font-weight="bold" fill="#111" stroke="#111" stroke-width="0.15" text-anchor="end">20</text>
<line x1="359.05" y1="100.94" x2="364.05" y2="100.94" stroke="#1a1a1a" stroke-width="1.3"/>
<text x="357.45" y="103.89" font-size="8.3" font-family='"Liberation Sans", sans-serif' font-weight="bold" fill="#111" stroke="#111" stroke-width="0.15" text-anchor="end">40</text>
<line x1="359.05" y1="81.76" x2="364.05" y2="81.76" stroke="#1a1a1a" stroke-width="1.3"/>
<text x="357.45" y="84.71" font-size="8.3" font-family='"Liberation Sans", sans-serif' font-weight="bold" fill="#111" stroke="#111" stroke-width="0.15" text-anchor="end">60</text>
<line x1="359.05" y1="62.58" x2="364.05" y2="62.58" stroke="#1a1a1a" stroke-width="1.3"/>
<text x="357.45" y="65.53" font-size="8.3" font-family='"Liberation Sans", sans-serif' font-weight="bold" fill="#111" stroke="#111" stroke-width="0.15" text-anchor="end">80</text>
<line x1="359.05" y1="43.40" x2="364.05" y2="43.40" stroke="#1a1a1a" stroke-width="1.3"/>
<text x="357.45" y="46.35" font-size="8.3" font-family='"Liberation Sans", sans-serif' font-weight="bold" fill="#111" stroke="#111" stroke-width="0.15" text-anchor="end">100</text>
<line x1="359.05" y1="24.22" x2="364.05" y2="24.22" stroke="#1a1a1a" stroke-width="1.3"/>
<text x="357.45" y="27.17" font-size="8.3" font-family='"Liberation Sans", sans-serif' font-weight="bold" fill="#111" stroke="#111" stroke-width="0.15" text-anchor="end">120</text>
<line x1="364.05" y1="139.30" x2="364.05" y2="143.60" stroke="#1a1a1a" stroke-width="1.3"/>
<text x="364.05" y="153.50" font-size="8.3" font-family='"Liberation Sans", sans-serif' font-weight="bold" fill="#111" stroke="#111" stroke-width="0.15" text-anchor="middle">0.0001</text>
<line x1="398.71" y1="139.30" x2="398.71" y2="143.60" stroke="#1a1a1a" stroke-width="1.3"/>
<text x="398.71" y="153.50" font-size="8.3" font-family='"Liberation Sans", sans-serif' font-weight="bold" fill="#111" stroke="#111" stroke-width="0.15" text-anchor="middle">0.01</text>
<line x1="433.37" y1="139.30" x2="433.37" y2="143.60" stroke="#1a1a1a" stroke-width="1.3"/>
<text x="433.37" y="153.50" font-size="8.3" font-family='"Liberation Sans", sans-serif' font-weight="bold" fill="#111" stroke="#111" stroke-width="0.15" text-anchor="middle">1</text>
<line x1="468.03" y1="139.30" x2="468.03" y2="143.60" stroke="#1a1a1a" stroke-width="1.3"/>
<text x="468.03" y="153.50" font-size="8.3" font-family='"Liberation Sans", sans-serif' font-weight="bold" fill="#111" stroke="#111" stroke-width="0.15" text-anchor="middle">100</text>
<line x1="502.69" y1="139.30" x2="502.69" y2="143.60" stroke="#1a1a1a" stroke-width="1.3"/>
<text x="502.69" y="153.50" font-size="8.3" font-family='"Liberation Sans", sans-serif' font-weight="bold" fill="#111" stroke="#111" stroke-width="0.15" text-anchor="middle">10000</text>
<line x1="537.35" y1="139.30" x2="537.35" y2="143.60" stroke="#1a1a1a" stroke-width="1.3"/>
<text x="537.35" y="153.50" font-size="8.3" font-family='"Liberation Sans", sans-serif' font-weight="bold" fill="#111" stroke="#111" stroke-width="0.15" text-anchor="middle">1000000</text>
<text x="450.70" y="166.80" font-size="9.4" font-family='"Liberation Sans", sans-serif' font-weight="bold" fill="#111" stroke="#111" stroke-width="0.15" text-anchor="middle" textLength="46.00" lengthAdjust="spacingAndGlyphs">Conc (pM)</text>
<text x="339.75" y="81.80" font-size="10.4" font-family='"Liberation Sans", sans-serif' font-weight="bold" fill="#111" stroke="#111" stroke-width="0.15" text-anchor="middle" textLength="64.30" lengthAdjust="spacingAndGlyphs" transform="rotate(-90 339.75 81.80)">% cell survival</text>
<path d="M413.60 39.50V53.20M411.00 39.50H416.20M411.00 53.20H416.20" stroke="#ff0000" stroke-width="0.9" fill="none"/>
<path d="M476.00 93.30V100.30M473.40 93.30H478.60M473.40 100.30H478.60" stroke="#ff0000" stroke-width="0.9" fill="none"/>
<rect x="390.45" y="45.55" width="4.70" height="4.70" fill="#ff0000"/>
<rect x="400.85" y="46.65" width="4.70" height="4.70" fill="#ff0000"/>
<rect x="411.25" y="44.15" width="4.70" height="4.70" fill="#ff0000"/>
<rect x="421.65" y="43.65" width="4.70" height="4.70" fill="#ff0000"/>
<rect x="432.05" y="44.95" width="4.70" height="4.70" fill="#ff0000"/>
<rect x="442.45" y="40.45" width="4.70" height="4.70" fill="#ff0000"/>
<rect x="452.85" y="41.85" width="4.70" height="4.70" fill="#ff0000"/>
<rect x="463.25" y="49.55" width="4.70" height="4.70" fill="#ff0000"/>
<rect x="473.65" y="94.65" width="4.70" height="4.70" fill="#ff0000"/>
<rect x="484.05" y="122.25" width="4.70" height="4.70" fill="#ff0000"/>
<rect x="494.45" y="125.65" width="4.70" height="4.70" fill="#ff0000"/>
<rect x="504.85" y="122.25" width="4.70" height="4.70" fill="#ff0000"/>
<polyline points="392.80,46.60 393.37,46.60 393.95,46.60 394.52,46.60 395.10,46.60 395.67,46.60 396.25,46.60 396.82,46.60 397.40,46.60 397.97,46.60 398.55,46.60 399.12,46.60 399.70,46.60 400.27,46.60 400.85,46.60 401.42,46.60 402.00,46.60 402.57,46.60 403.15,46.60 403.72,46.60 404.30,46.60 404.87,46.60 405.45,46.60 406.02,46.60 406.60,46.60 407.17,46.60 407.75,46.60 408.32,46.60 408.90,46.60 409.47,46.60 410.05,46.60 410.62,46.60 411.20,46.60 411.77,46.60 412.35,46.60 412.92,46.60 413.50,46.60 414.07,46.60 414.65,46.60 415.22,46.60 415.79,46.60 416.37,46.60 416.94,46.60 417.52,46.60 418.09,46.60 418.67,46.60 419.24,46.60 419.82,46.60 420.39,46.60 420.97,46.60 421.54,46.60 422.12,46.60 422.69,46.60 423.27,46.60 423.84,46.60 424.42,46.60 424.99,46.60 425.57,46.60 426.14,46.60 426.72,46.60 427.29,46.60 427.87,46.60 428.44,46.60 429.02,46.60 429.59,46.60 430.17,46.60 430.74,46.60 431.32,46.60 431.89,46.60 432.47,46.60 433.04,46.60 433.62,46.60 434.19,46.60 434.77,46.60 435.34,46.60 435.92,46.60 436.49,46.60 437.07,46.60 437.64,46.60 438.22,46.60 438.79,46.60 439.36,46.60 439.94,46.60 440.51,46.60 441.09,46.60 441.66,46.60 442.24,46.60 442.81,46.60 443.39,46.60 443.96,46.60 444.54,46.60 445.11,46.61 445.69,46.61 446.26,46.61 446.84,46.61 447.41,46.61 447.99,46.61 448.56,46.62 449.14,46.62 449.71,46.63 450.29,46.63 450.86,46.64 451.44,46.64 452.01,46.65 452.59,46.67 453.16,46.68 453.74,46.70 454.31,46.72 454.89,46.74 455.46,46.77 456.04,46.80 456.61,46.85 457.19,46.90 457.76,46.96 458.34,47.04 458.91,47.13 459.49,47.24 460.06,47.37 460.64,47.52 461.21,47.72 461.78,47.94 462.36,48.22 462.93,48.55 463.51,48.94 464.08,49.42 464.66,49.98 465.23,50.65 465.81,51.45 466.38,52.38 466.96,53.49 467.53,54.78 468.11,56.28 468.68,58.01 469.26,60.00 469.83,62.24 470.41,64.77 470.98,67.56 471.56,70.62 472.13,73.92 472.71,77.41 473.28,81.06 473.86,84.81 474.43,88.58 475.01,92.31 475.58,95.94 476.16,99.41 476.73,102.67 477.31,105.69 477.88,108.44 478.46,110.92 479.03,113.13 479.61,115.07 480.18,116.77 480.76,118.23 481.33,119.49 481.91,120.57 482.48,121.49 483.06,122.26 483.63,122.91 484.21,123.46 484.78,123.92 485.35,124.31 485.93,124.63 486.50,124.89 487.08,125.12 487.65,125.30 488.23,125.46 488.80,125.58 489.38,125.69 489.95,125.78 490.53,125.85 491.10,125.91 491.68,125.96 492.25,126.00 492.83,126.04 493.40,126.06 493.98,126.09 494.55,126.11 495.13,126.12 495.70,126.14 496.28,126.15 496.85,126.16 497.43,126.16 498.00,126.17 498.58,126.18 499.15,126.18 499.73,126.18 500.30,126.19 500.88,126.19 501.45,126.19 502.03,126.19 502.60,126.19 503.18,126.19 503.75,126.20 504.33,126.20 504.90,126.20 505.48,126.20 506.05,126.20 506.63,126.20 507.20,126.20" fill="none" stroke="#ff0000" stroke-width="1.0"/>
<polyline points="392.80,46.20 507.20,46.20" fill="none" stroke="#5a78ff" stroke-width="1.2"/>
<path d="M392.80 37.50V56.40M390.20 37.50H395.40M390.20 56.40H395.40" stroke="#0a3cff" stroke-width="0.9" fill="none"/>
<path d="M403.20 38.40V57.40M400.60 38.40H405.80M400.60 57.40H405.80" stroke="#0a3cff" stroke-width="0.9" fill="none"/>
<path d="M413.60 36.40V56.40M411.00 36.40H416.20M411.00 56.40H416.20" stroke="#0a3cff" stroke-width="0.9" fill="none"/>
<path d="M424.00 35.70V55.30M421.40 35.70H426.60M421.40 55.30H426.60" stroke="#0a3cff" stroke-width="0.9" fill="none"/>
<path d="M434.40 36.00V52.70M431.80 36.00H437.00M431.80 52.70H437.00" stroke="#0a3cff" stroke-width="0.9" fill="none"/>
<path d="M444.80 34.50V55.30M442.20 34.50H447.40M442.20 55.30H447.40" stroke="#0a3cff" stroke-width="0.9" fill="none"/>
<path d="M455.20 35.40V55.30M452.60 35.40H457.80M452.60 55.30H457.80" stroke="#0a3cff" stroke-width="0.9" fill="none"/>
<path d="M465.60 31.80V61.40M463.00 31.80H468.20M463.00 61.40H468.20" stroke="#0a3cff" stroke-width="0.9" fill="none"/>
<path d="M476.00 37.70V55.30M473.40 37.70H478.60M473.40 55.30H478.60" stroke="#0a3cff" stroke-width="0.9" fill="none"/>
<path d="M486.40 31.40V55.30M483.80 31.40H489.00M483.80 55.30H489.00" stroke="#0a3cff" stroke-width="0.9" fill="none"/>
<path d="M496.80 38.10V55.30M494.20 38.10H499.40M494.20 55.30H499.40" stroke="#0a3cff" stroke-width="0.9" fill="none"/>
<path d="M507.20 35.40V60.80M504.60 35.40H509.80M504.60 60.80H509.80" stroke="#0a3cff" stroke-width="0.9" fill="none"/>
<circle cx="392.80" cy="46.90" r="2.4" fill="#0a3cff"/>
<circle cx="403.20" cy="48.20" r="2.4" fill="#0a3cff"/>
<circle cx="413.60" cy="46.20" r="2.4" fill="#0a3cff"/>
<circle cx="424.00" cy="45.30" r="2.4" fill="#0a3cff"/>
<circle cx="434.40" cy="44.20" r="2.4" fill="#0a3cff"/>
<circle cx="444.80" cy="44.20" r="2.4" fill="#0a3cff"/>
<circle cx="455.20" cy="45.50" r="2.4" fill="#0a3cff"/>
<circle cx="465.60" cy="46.50" r="2.4" fill="#0a3cff"/>
<circle cx="476.00" cy="46.50" r="2.4" fill="#0a3cff"/>
<circle cx="486.40" cy="43.10" r="2.4" fill="#0a3cff"/>
<circle cx="496.80" cy="46.60" r="2.4" fill="#0a3cff"/>
<circle cx="507.20" cy="48.00" r="2.4" fill="#0a3cff"/>
<line x1="625.00" y1="74.50" x2="638.60" y2="74.50" stroke="#0a3cff" stroke-width="1.2"/>
<circle cx="631.80" cy="74.50" r="2.2" fill="#0a3cff"/>
<line x1="625.00" y1="91.60" x2="638.60" y2="91.60" stroke="#ff0000" stroke-width="1.2"/>
<rect x="629.70" y="89.50" width="4.20" height="4.20" fill="#ff0000"/>
<text x="645.80" y="77.60" font-size="10.3" font-family='"Liberation Sans", sans-serif' fill="#2a2a2a" textLength="28.60" lengthAdjust="spacingAndGlyphs">Buffer</text>
<text x="645.90" y="94.60" font-size="10.3" font-family='"Liberation Sans", sans-serif' fill="#2a2a2a" textLength="74.60" lengthAdjust="spacingAndGlyphs">EpCAM COBRA</text>
<line x1="366.70" y1="222.72" x2="366.70" y2="342.70" stroke="#1a1a1a" stroke-width="1.4"/>
<line x1="361.70" y1="338.40" x2="540.60" y2="338.40" stroke="#1a1a1a" stroke-width="1.4"/>
<line x1="361.70" y1="338.40" x2="366.70" y2="338.40" stroke="#1a1a1a" stroke-width="1.3"/>
<text x="360.10" y="341.35" font-size="8.3" font-family='"Liberation Sans", sans-serif' font-weight="bold" fill="#111" stroke="#111" stroke-width="0.15" text-anchor="end">0</text>
<line x1="361.70" y1="319.22" x2="366.70" y2="319.22" stroke="#1a1a1a" stroke-width="1.3"/>
<text x="360.10" y="322.17" font-size="8.3" font-family='"Liberation Sans", sans-serif' font-weight="bold" fill="#111" stroke="#111" stroke-width="0.15" text-anchor="end">20</text>
<line x1="361.70" y1="300.04" x2="366.70" y2="300.04" stroke="#1a1a1a" stroke-width="1.3"/>
<text x="360.10" y="302.99" font-size="8.3" font-family='"Liberation Sans", sans-serif' font-weight="bold" fill="#111" stroke="#111" stroke-width="0.15" text-anchor="end">40</text>
<line x1="361.70" y1="280.86" x2="366.70" y2="280.86" stroke="#1a1a1a" stroke-width="1.3"/>
<text x="360.10" y="283.81" font-size="8.3" font-family='"Liberation Sans", sans-serif' font-weight="bold" fill="#111" stroke="#111" stroke-width="0.15" text-anchor="end">60</text>
<line x1="361.70" y1="261.68" x2="366.70" y2="261.68" stroke="#1a1a1a" stroke-width="1.3"/>
<text x="360.10" y="264.63" font-size="8.3" font-family='"Liberation Sans", sans-serif' font-weight="bold" fill="#111" stroke="#111" stroke-width="0.15" text-anchor="end">80</text>
<line x1="361.70" y1="242.50" x2="366.70" y2="242.50" stroke="#1a1a1a" stroke-width="1.3"/>
<text x="360.10" y="245.45" font-size="8.3" font-family='"Liberation Sans", sans-serif' font-weight="bold" fill="#111" stroke="#111" stroke-width="0.15" text-anchor="end">100</text>
<line x1="361.70" y1="223.32" x2="366.70" y2="223.32" stroke="#1a1a1a" stroke-width="1.3"/>
<text x="360.10" y="226.27" font-size="8.3" font-family='"Liberation Sans", sans-serif' font-weight="bold" fill="#111" stroke="#111" stroke-width="0.15" text-anchor="end">120</text>
<line x1="366.70" y1="338.40" x2="366.70" y2="342.70" stroke="#1a1a1a" stroke-width="1.3"/>
<text x="366.70" y="352.60" font-size="8.3" font-family='"Liberation Sans", sans-serif' font-weight="bold" fill="#111" stroke="#111" stroke-width="0.15" text-anchor="middle">0.0001</text>
<line x1="401.36" y1="338.40" x2="401.36" y2="342.70" stroke="#1a1a1a" stroke-width="1.3"/>
<text x="401.36" y="352.60" font-size="8.3" font-family='"Liberation Sans", sans-serif' font-weight="bold" fill="#111" stroke="#111" stroke-width="0.15" text-anchor="middle">0.01</text>
<line x1="436.02" y1="338.40" x2="436.02" y2="342.70" stroke="#1a1a1a" stroke-width="1.3"/>
<text x="436.02" y="352.60" font-size="8.3" font-family='"Liberation Sans", sans-serif' font-weight="bold" fill="#111" stroke="#111" stroke-width="0.15" text-anchor="middle">1</text>
<line x1="470.68" y1="338.40" x2="470.68" y2="342.70" stroke="#1a1a1a" stroke-width="1.3"/>
<text x="470.68" y="352.60" font-size="8.3" font-family='"Liberation Sans", sans-serif' font-weight="bold" fill="#111" stroke="#111" stroke-width="0.15" text-anchor="middle">100</text>
<line x1="505.34" y1="338.40" x2="505.34" y2="342.70" stroke="#1a1a1a" stroke-width="1.3"/>
<text x="505.34" y="352.60" font-size="8.3" font-family='"Liberation Sans", sans-serif' font-weight="bold" fill="#111" stroke="#111" stroke-width="0.15" text-anchor="middle">10000</text>
<line x1="540.00" y1="338.40" x2="540.00" y2="342.70" stroke="#1a1a1a" stroke-width="1.3"/>
<text x="540.00" y="352.60" font-size="8.3" font-family='"Liberation Sans", sans-serif' font-weight="bold" fill="#111" stroke="#111" stroke-width="0.15" text-anchor="middle">1000000</text>
<text x="453.35" y="365.90" font-size="9.4" font-family='"Liberation Sans", sans-serif' font-weight="bold" fill="#111" stroke="#111" stroke-width="0.15" text-anchor="middle" textLength="46.00" lengthAdjust="spacingAndGlyphs">Conc (pM)</text>
<text x="342.40" y="280.90" font-size="10.4" font-family='"Liberation Sans", sans-serif' font-weight="bold" fill="#111" stroke="#111" stroke-width="0.15" text-anchor="middle" textLength="64.30" lengthAdjust="spacingAndGlyphs" transform="rotate(-90 342.40 280.90)">% cell survival</text>
<path d="M427.10 238.80V245.00M424.50 238.80H429.70M424.50 245.00H429.70" stroke="#ff0000" stroke-width="0.9" fill="none"/>
<path d="M432.30 243.40V256.30M429.70 243.40H434.90M429.70 256.30H434.90" stroke="#ff0000" stroke-width="0.9" fill="none"/>
<path d="M442.70 243.20V259.30M440.10 243.20H445.30M440.10 259.30H445.30" stroke="#ff0000" stroke-width="0.9" fill="none"/>
<path d="M458.30 273.80V312.30M455.70 273.80H460.90M455.70 312.30H460.90" stroke="#ff0000" stroke-width="0.9" fill="none"/>
<path d="M468.70 311.30V319.30M466.10 311.30H471.30M466.10 319.30H471.30" stroke="#ff0000" stroke-width="0.9" fill="none"/>
<rect x="388.35" y="254.45" width="4.70" height="4.70" fill="#ff0000"/>
<rect x="393.55" y="244.05" width="4.70" height="4.70" fill="#ff0000"/>
<rect x="398.75" y="241.55" width="4.70" height="4.70" fill="#ff0000"/>
<rect x="403.95" y="254.45" width="4.70" height="4.70" fill="#ff0000"/>
<rect x="409.15" y="241.85" width="4.70" height="4.70" fill="#ff0000"/>
<rect x="414.35" y="242.95" width="4.70" height="4.70" fill="#ff0000"/>
<rect x="419.55" y="245.65" width="4.70" height="4.70" fill="#ff0000"/>
<rect x="424.75" y="239.55" width="4.70" height="4.70" fill="#ff0000"/>
<rect x="429.95" y="247.65" width="4.70" height="4.70" fill="#ff0000"/>
<rect x="435.15" y="239.85" width="4.70" height="4.70" fill="#ff0000"/>
<rect x="440.35" y="247.95" width="4.70" height="4.70" fill="#ff0000"/>
<rect x="445.55" y="253.45" width="4.70" height="4.70" fill="#ff0000"/>
<rect x="450.75" y="265.65" width="4.70" height="4.70" fill="#ff0000"/>
<rect x="455.95" y="290.75" width="4.70" height="4.70" fill="#ff0000"/>
<rect x="461.15" y="316.05" width="4.70" height="4.70" fill="#ff0000"/>
<rect x="466.35" y="312.95" width="4.70" height="4.70" fill="#ff0000"/>
<rect x="471.55" y="319.45" width="4.70" height="4.70" fill="#ff0000"/>
<rect x="476.75" y="321.45" width="4.70" height="4.70" fill="#ff0000"/>
<rect x="481.95" y="321.05" width="4.70" height="4.70" fill="#ff0000"/>
<rect x="487.15" y="320.85" width="4.70" height="4.70" fill="#ff0000"/>
<rect x="492.35" y="318.65" width="4.70" height="4.70" fill="#ff0000"/>
<rect x="497.55" y="313.75" width="4.70" height="4.70" fill="#ff0000"/>
<rect x="502.75" y="309.75" width="4.70" height="4.70" fill="#ff0000"/>
<rect x="507.95" y="302.65" width="4.70" height="4.70" fill="#ff0000"/>
<polyline points="388.30,248.40 388.81,248.40 389.32,248.40 389.83,248.40 390.34,248.40 390.85,248.40 391.36,248.40 391.87,248.40 392.38,248.40 392.89,248.40 393.40,248.40 393.92,248.40 394.43,248.40 394.94,248.40 395.45,248.40 395.96,248.40 396.47,248.40 396.98,248.40 397.49,248.40 398.00,248.40 398.51,248.40 399.02,248.40 399.53,248.40 400.04,248.40 400.55,248.40 401.06,248.40 401.57,248.40 402.08,248.40 402.59,248.40 403.10,248.40 403.61,248.40 404.12,248.40 404.63,248.40 405.15,248.40 405.66,248.40 406.17,248.40 406.68,248.40 407.19,248.40 407.70,248.40 408.21,248.40 408.72,248.40 409.23,248.40 409.74,248.40 410.25,248.40 410.76,248.40 411.27,248.40 411.78,248.40 412.29,248.40 412.80,248.40 413.31,248.40 413.82,248.40 414.33,248.40 414.84,248.40 415.35,248.40 415.86,248.40 416.38,248.40 416.89,248.40 417.40,248.40 417.91,248.40 418.42,248.40 418.93,248.40 419.44,248.40 419.95,248.40 420.46,248.40 420.97,248.40 421.48,248.40 421.99,248.40 422.50,248.40 423.01,248.40 423.52,248.40 424.03,248.40 424.54,248.40 425.05,248.40 425.56,248.40 426.07,248.40 426.58,248.40 427.09,248.40 427.61,248.41 428.12,248.41 428.63,248.41 429.14,248.41 429.65,248.41 430.16,248.41 430.67,248.42 431.18,248.42 431.69,248.42 432.20,248.43 432.71,248.43 433.22,248.44 433.73,248.44 434.24,248.45 434.75,248.46 435.26,248.47 435.77,248.48 436.28,248.50 436.79,248.52 437.30,248.54 437.81,248.56 438.33,248.59 438.84,248.63 439.35,248.67 439.86,248.72 440.37,248.78 440.88,248.84 441.39,248.93 441.90,249.02 442.41,249.13 442.92,249.27 443.43,249.42 443.94,249.61 444.45,249.82 444.96,250.08 445.47,250.38 445.98,250.73 446.49,251.14 447.00,251.62 447.51,252.18 448.02,252.83 448.53,253.58 449.04,254.45 449.56,255.45 450.07,256.59 450.58,257.89 451.09,259.36 451.60,261.01 452.11,262.85 452.62,264.87 453.13,267.09 453.64,269.49 454.15,272.06 454.66,274.77 455.17,277.59 455.68,280.50 456.19,283.45 456.70,286.40 457.21,289.31 457.72,292.14 458.23,294.85 458.74,297.42 459.25,299.83 459.76,302.05 460.27,304.09 460.79,305.93 461.30,307.59 461.81,309.06 462.32,310.37 462.83,311.51 463.34,312.52 463.85,313.39 464.36,314.15 464.87,314.80 465.38,315.36 465.89,315.84 466.40,316.26 466.91,316.61 467.42,316.91 467.93,317.17 468.44,317.39 468.95,317.57 469.46,317.73 469.97,317.86 470.48,317.98 470.99,318.07 471.51,318.15 472.02,318.22 472.53,318.28 473.04,318.33 473.55,318.37 474.06,318.41 474.57,318.44 475.08,318.46 475.59,318.48 476.10,318.50 476.61,318.52 477.12,318.53 477.63,318.54 478.14,318.55 478.65,318.56 479.16,318.56 479.67,318.57 480.18,318.57 480.69,318.58 481.20,318.58 481.71,318.58 482.22,318.59 482.74,318.59 483.25,318.59 483.76,318.59 484.27,318.59 484.78,318.59 485.29,318.60 485.80,318.60 486.31,318.60 486.82,318.60 487.33,318.60 487.84,318.60 488.35,318.60 488.86,318.60 489.37,318.60 489.88,318.60 490.39,318.60 490.90,318.60 491.41,318.60 491.92,318.60 492.43,318.60 492.94,318.60 493.45,318.60 493.97,318.60 494.48,318.60 494.99,318.60 495.50,318.60 496.01,318.60 496.52,318.60 497.03,318.60 497.54,318.60 498.05,318.60 498.56,318.60 499.07,318.60 499.58,318.60 500.09,318.60 500.60,318.60 501.11,318.60 501.62,318.60 502.13,318.60 502.64,318.60 503.15,318.60 503.66,318.60 504.17,318.60 504.68,318.60 505.20,318.60 505.71,318.60 506.22,318.60 506.73,318.60 507.24,318.60 507.75,318.60 508.26,318.60 508.77,318.60 509.28,318.60 509.79,318.60 510.30,318.60" fill="none" stroke="#ff0000" stroke-width="1.0"/>
<polyline points="388.30,248.80 510.30,249.10" fill="none" stroke="#3050ff" stroke-width="1.0"/>
<path d="M390.70 248.20V254.60M388.10 248.20H393.30M388.10 254.60H393.30" stroke="#0a3cff" stroke-width="0.9" fill="none"/>
<path d="M395.90 247.10V256.30M393.30 247.10H398.50M393.30 256.30H398.50" stroke="#0a3cff" stroke-width="0.9" fill="none"/>
<path d="M406.30 236.50V250.00M403.70 236.50H408.90M403.70 250.00H408.90" stroke="#0a3cff" stroke-width="0.9" fill="none"/>
<path d="M421.90 245.90V253.00M419.30 245.90H424.50M419.30 253.00H424.50" stroke="#0a3cff" stroke-width="0.9" fill="none"/>
<path d="M432.30 246.80V252.60M429.70 246.80H434.90M429.70 252.60H434.90" stroke="#0a3cff" stroke-width="0.9" fill="none"/>
<path d="M437.50 231.60V257.10M434.90 231.60H440.10M434.90 257.10H440.10" stroke="#0a3cff" stroke-width="0.9" fill="none"/>
<path d="M442.70 240.20V251.50M440.10 240.20H445.30M440.10 251.50H445.30" stroke="#0a3cff" stroke-width="0.9" fill="none"/>
<path d="M458.30 249.00V256.40M455.70 249.00H460.90M455.70 256.40H460.90" stroke="#0a3cff" stroke-width="0.9" fill="none"/>
<path d="M463.50 245.30V253.40M460.90 245.30H466.10M460.90 253.40H466.10" stroke="#0a3cff" stroke-width="0.9" fill="none"/>
<path d="M468.70 238.50V246.40M466.10 238.50H471.30M466.10 246.40H471.30" stroke="#0a3cff" stroke-width="0.9" fill="none"/>
<path d="M484.30 246.50V251.50M481.70 246.50H486.90M481.70 251.50H486.90" stroke="#0a3cff" stroke-width="0.9" fill="none"/>
<path d="M489.50 246.50V251.50M486.90 246.50H492.10M486.90 251.50H492.10" stroke="#0a3cff" stroke-width="0.9" fill="none"/>
<path d="M499.90 242.30V254.20M497.30 242.30H502.50M497.30 254.20H502.50" stroke="#0a3cff" stroke-width="0.9" fill="none"/>
<path d="M510.30 248.60V263.50M507.70 248.60H512.90M507.70 263.50H512.90" stroke="#0a3cff" stroke-width="0.9" fill="none"/>
<circle cx="390.70" cy="251.40" r="2.4" fill="#0a3cff"/>
<circle cx="395.90" cy="251.60" r="2.4" fill="#0a3cff"/>
<circle cx="401.10" cy="249.70" r="2.4" fill="#0a3cff"/>
<circle cx="406.30" cy="243.50" r="2.4" fill="#0a3cff"/>
<circle cx="411.50" cy="245.00" r="2.4" fill="#0a3cff"/>
<circle cx="416.70" cy="250.30" r="2.4" fill="#0a3cff"/>
<circle cx="421.90" cy="249.70" r="2.4" fill="#0a3cff"/>
<circle cx="427.10" cy="249.30" r="2.4" fill="#0a3cff"/>
<circle cx="432.30" cy="249.70" r="2.4" fill="#0a3cff"/>
<circle cx="437.50" cy="244.30" r="2.4" fill="#0a3cff"/>
<circle cx="442.70" cy="246.20" r="2.4" fill="#0a3cff"/>
<circle cx="447.90" cy="251.50" r="2.4" fill="#0a3cff"/>
<circle cx="453.10" cy="251.40" r="2.4" fill="#0a3cff"/>
<circle cx="458.30" cy="252.70" r="2.4" fill="#0a3cff"/>
<circle cx="463.50" cy="249.70" r="2.4" fill="#0a3cff"/>
<circle cx="468.70" cy="242.60" r="2.4" fill="#0a3cff"/>
<circle cx="473.90" cy="242.30" r="2.4" fill="#0a3cff"/>
<circle cx="479.10" cy="249.60" r="2.4" fill="#0a3cff"/>
<circle cx="484.30" cy="249.60" r="2.4" fill="#0a3cff"/>
<circle cx="489.50" cy="249.60" r="2.4" fill="#0a3cff"/>
<circle cx="494.70" cy="251.40" r="2.4" fill="#0a3cff"/>
<circle cx="499.90" cy="248.40" r="2.4" fill="#0a3cff"/>
<circle cx="505.10" cy="251.40" r="2.4" fill="#0a3cff"/>
<circle cx="510.30" cy="256.10" r="2.4" fill="#0a3cff"/>
<line x1="606.20" y1="223.72" x2="606.20" y2="343.70" stroke="#1a1a1a" stroke-width="1.4"/>
<line x1="601.20" y1="339.40" x2="780.10" y2="339.40" stroke="#1a1a1a" stroke-width="1.4"/>
<line x1="601.20" y1="339.40" x2="606.20" y2="339.40" stroke="#1a1a1a" stroke-width="1.3"/>
<text x="599.60" y="342.35" font-size="8.3" font-family='"Liberation Sans", sans-serif' font-weight="bold" fill="#111" stroke="#111" stroke-width="0.15" text-anchor="end">0</text>
<line x1="601.20" y1="320.22" x2="606.20" y2="320.22" stroke="#1a1a1a" stroke-width="1.3"/>
<text x="599.60" y="323.17" font-size="8.3" font-family='"Liberation Sans", sans-serif' font-weight="bold" fill="#111" stroke="#111" stroke-width="0.15" text-anchor="end">20</text>
<line x1="601.20" y1="301.04" x2="606.20" y2="301.04" stroke="#1a1a1a" stroke-width="1.3"/>
<text x="599.60" y="303.99" font-size="8.3" font-family='"Liberation Sans", sans-serif' font-weight="bold" fill="#111" stroke="#111" stroke-width="0.15" text-anchor="end">40</text>
<line x1="601.20" y1="281.86" x2="606.20" y2="281.86" stroke="#1a1a1a" stroke-width="1.3"/>
<text x="599.60" y="284.81" font-size="8.3" font-family='"Liberation Sans", sans-serif' font-weight="bold" fill="#111" stroke="#111" stroke-width="0.15" text-anchor="end">60</text>
<line x1="601.20" y1="262.68" x2="606.20" y2="262.68" stroke="#1a1a1a" stroke-width="1.3"/>
<text x="599.60" y="265.63" font-size="8.3" font-family='"Liberation Sans", sans-serif' font-weight="bold" fill="#111" stroke="#111" stroke-width="0.15" text-anchor="end">80</text>
<line x1="601.20" y1="243.50" x2="606.20" y2="243.50" stroke="#1a1a1a" stroke-width="1.3"/>
<text x="599.60" y="246.45" font-size="8.3" font-family='"Liberation Sans", sans-serif' font-weight="bold" fill="#111" stroke="#111" stroke-width="0.15" text-anchor="end">100</text>
<line x1="601.20" y1="224.32" x2="606.20" y2="224.32" stroke="#1a1a1a" stroke-width="1.3"/>
<text x="599.60" y="227.27" font-size="8.3" font-family='"Liberation Sans", sans-serif' font-weight="bold" fill="#111" stroke="#111" stroke-width="0.15" text-anchor="end">120</text>
<line x1="606.20" y1="339.40" x2="606.20" y2="343.70" stroke="#1a1a1a" stroke-width="1.3"/>
<text x="606.20" y="353.60" font-size="8.3" font-family='"Liberation Sans", sans-serif' font-weight="bold" fill="#111" stroke="#111" stroke-width="0.15" text-anchor="middle">0.0001</text>
<line x1="640.86" y1="339.40" x2="640.86" y2="343.70" stroke="#1a1a1a" stroke-width="1.3"/>
<text x="640.86" y="353.60" font-size="8.3" font-family='"Liberation Sans", sans-serif' font-weight="bold" fill="#111" stroke="#111" stroke-width="0.15" text-anchor="middle">0.01</text>
<line x1="675.52" y1="339.40" x2="675.52" y2="343.70" stroke="#1a1a1a" stroke-width="1.3"/>
<text x="675.52" y="353.60" font-size="8.3" font-family='"Liberation Sans", sans-serif' font-weight="bold" fill="#111" stroke="#111" stroke-width="0.15" text-anchor="middle">1</text>
<line x1="710.18" y1="339.40" x2="710.18" y2="343.70" stroke="#1a1a1a" stroke-width="1.3"/>
<text x="710.18" y="353.60" font-size="8.3" font-family='"Liberation Sans", sans-serif' font-weight="bold" fill="#111" stroke="#111" stroke-width="0.15" text-anchor="middle">100</text>
<line x1="744.84" y1="339.40" x2="744.84" y2="343.70" stroke="#1a1a1a" stroke-width="1.3"/>
<text x="744.84" y="353.60" font-size="8.3" font-family='"Liberation Sans", sans-serif' font-weight="bold" fill="#111" stroke="#111" stroke-width="0.15" text-anchor="middle">10000</text>
<line x1="779.50" y1="339.40" x2="779.50" y2="343.70" stroke="#1a1a1a" stroke-width="1.3"/>
<text x="779.50" y="353.60" font-size="8.3" font-family='"Liberation Sans", sans-serif' font-weight="bold" fill="#111" stroke="#111" stroke-width="0.15" text-anchor="middle">1000000</text>
<text x="692.85" y="366.90" font-size="9.4" font-family='"Liberation Sans", sans-serif' font-weight="bold" fill="#111" stroke="#111" stroke-width="0.15" text-anchor="middle" textLength="46.00" lengthAdjust="spacingAndGlyphs">Conc (pM)</text>
<text x="581.90" y="281.90" font-size="10.4" font-family='"Liberation Sans", sans-serif' font-weight="bold" fill="#111" stroke="#111" stroke-width="0.15" text-anchor="middle" textLength="64.30" lengthAdjust="spacingAndGlyphs" transform="rotate(-90 581.90 281.90)">% cell survival</text>
<path d="M630.10 254.00V261.00M627.50 254.00H632.70M627.50 261.00H632.70" stroke="#ff0000" stroke-width="0.9" fill="none"/>
<path d="M635.32 246.60V272.60M632.72 246.60H637.92M632.72 272.60H637.92" stroke="#ff0000" stroke-width="0.9" fill="none"/>
<path d="M640.54 237.20V272.30M637.94 237.20H643.14M637.94 272.30H643.14" stroke="#ff0000" stroke-width="0.9" fill="none"/>
<path d="M645.75 246.00V254.00M643.15 246.00H648.35M643.15 254.00H648.35" stroke="#ff0000" stroke-width="0.9" fill="none"/>
<path d="M650.97 238.10V254.70M648.37 238.10H653.57M648.37 254.70H653.57" stroke="#ff0000" stroke-width="0.9" fill="none"/>
<path d="M661.41 239.60V255.40M658.81 239.60H664.01M658.81 255.40H664.01" stroke="#ff0000" stroke-width="0.9" fill="none"/>
<path d="M666.63 241.20V254.00M664.03 241.20H669.23M664.03 254.00H669.23" stroke="#ff0000" stroke-width="0.9" fill="none"/>
<path d="M671.84 239.20V253.00M669.24 239.20H674.44M669.24 253.00H674.44" stroke="#ff0000" stroke-width="0.9" fill="none"/>
<path d="M677.06 244.00V252.00M674.46 244.00H679.66M674.46 252.00H679.66" stroke="#ff0000" stroke-width="0.9" fill="none"/>
<path d="M682.28 243.20V255.40M679.68 243.20H684.88M679.68 255.40H684.88" stroke="#ff0000" stroke-width="0.9" fill="none"/>
<path d="M687.50 248.00V267.60M684.90 248.00H690.10M684.90 267.60H690.10" stroke="#ff0000" stroke-width="0.9" fill="none"/>
<path d="M692.72 240.10V265.80M690.12 240.10H695.32M690.12 265.80H695.32" stroke="#ff0000" stroke-width="0.9" fill="none"/>
<path d="M697.93 248.00V266.20M695.33 248.00H700.53M695.33 266.20H700.53" stroke="#ff0000" stroke-width="0.9" fill="none"/>
<path d="M703.15 250.00V264.00M700.55 250.00H705.75M700.55 264.00H705.75" stroke="#ff0000" stroke-width="0.9" fill="none"/>
<path d="M708.37 245.50V262.20M705.77 245.50H710.97M705.77 262.20H710.97" stroke="#ff0000" stroke-width="0.9" fill="none"/>
<path d="M713.59 244.20V267.60M710.99 244.20H716.19M710.99 267.60H716.19" stroke="#ff0000" stroke-width="0.9" fill="none"/>
<path d="M718.81 256.00V265.30M716.21 256.00H721.41M716.21 265.30H721.41" stroke="#ff0000" stroke-width="0.9" fill="none"/>
<path d="M724.02 250.30V262.20M721.42 250.30H726.62M721.42 262.20H726.62" stroke="#ff0000" stroke-width="0.9" fill="none"/>
<path d="M729.24 260.00V268.00M726.64 260.00H731.84M726.64 268.00H731.84" stroke="#ff0000" stroke-width="0.9" fill="none"/>
<path d="M734.46 246.40V272.60M731.86 246.40H737.06M731.86 272.60H737.06" stroke="#ff0000" stroke-width="0.9" fill="none"/>
<path d="M739.68 254.00V258.50M737.08 254.00H742.28M737.08 258.50H742.28" stroke="#ff0000" stroke-width="0.9" fill="none"/>
<path d="M744.90 254.30V263.20M742.30 254.30H747.50M742.30 263.20H747.50" stroke="#ff0000" stroke-width="0.9" fill="none"/>
<polyline points="630.10,251.00 705.00,251.00" fill="none" stroke="#ff0000" stroke-width="1.0"/>
<rect x="627.75" y="255.45" width="4.70" height="4.70" fill="#ff0000"/>
<rect x="632.97" y="257.55" width="4.70" height="4.70" fill="#ff0000"/>
<rect x="638.19" y="252.15" width="4.70" height="4.70" fill="#ff0000"/>
<rect x="643.40" y="247.65" width="4.70" height="4.70" fill="#ff0000"/>
<rect x="648.62" y="244.05" width="4.70" height="4.70" fill="#ff0000"/>
<rect x="653.84" y="240.85" width="4.70" height="4.70" fill="#ff0000"/>
<rect x="659.06" y="244.95" width="4.70" height="4.70" fill="#ff0000"/>
<rect x="664.28" y="244.95" width="4.70" height="4.70" fill="#ff0000"/>
<rect x="669.49" y="243.65" width="4.70" height="4.70" fill="#ff0000"/>
<rect x="674.71" y="245.65" width="4.70" height="4.70" fill="#ff0000"/>
<rect x="679.93" y="246.95" width="4.70" height="4.70" fill="#ff0000"/>
<rect x="685.15" y="254.65" width="4.70" height="4.70" fill="#ff0000"/>
<rect x="690.37" y="250.35" width="4.70" height="4.70" fill="#ff0000"/>
<rect x="695.58" y="254.65" width="4.70" height="4.70" fill="#ff0000"/>
<rect x="700.80" y="254.65" width="4.70" height="4.70" fill="#ff0000"/>
<rect x="706.02" y="251.45" width="4.70" height="4.70" fill="#ff0000"/>
<rect x="711.24" y="254.05" width="4.70" height="4.70" fill="#ff0000"/>
<rect x="716.46" y="258.45" width="4.70" height="4.70" fill="#ff0000"/>
<rect x="721.67" y="253.75" width="4.70" height="4.70" fill="#ff0000"/>
<rect x="726.89" y="262.55" width="4.70" height="4.70" fill="#ff0000"/>
<rect x="732.11" y="257.75" width="4.70" height="4.70" fill="#ff0000"/>
<rect x="737.33" y="253.75" width="4.70" height="4.70" fill="#ff0000"/>
<rect x="742.55" y="256.45" width="4.70" height="4.70" fill="#ff0000"/>
<polyline points="630.10,252.30 630.48,252.30 630.87,252.30 631.25,252.30 631.64,252.30 632.02,252.30 632.40,252.30 632.79,252.30 633.17,252.30 633.56,252.30 633.94,252.30 634.32,252.30 634.71,252.30 635.09,252.30 635.48,252.30 635.86,252.30 636.24,252.30 636.63,252.30 637.01,252.30 637.39,252.30 637.78,252.30 638.16,252.30 638.55,252.30 638.93,252.30 639.31,252.30 639.70,252.30 640.08,252.30 640.47,252.30 640.85,252.30 641.23,252.31 641.62,252.31 642.00,252.31 642.39,252.31 642.77,252.31 643.15,252.31 643.54,252.31 643.92,252.31 644.31,252.31 644.69,252.31 645.07,252.31 645.46,252.31 645.84,252.31 646.23,252.31 646.61,252.31 646.99,252.31 647.38,252.31 647.76,252.31 648.14,252.31 648.53,252.31 648.91,252.32 649.30,252.32 649.68,252.32 650.06,252.32 650.45,252.32 650.83,252.32 651.22,252.32 651.60,252.32 651.98,252.32 652.37,252.32 652.75,252.32 653.14,252.32 653.52,252.32 653.90,252.33 654.29,252.33 654.67,252.33 655.06,252.33 655.44,252.33 655.82,252.33 656.21,252.33 656.59,252.33 656.98,252.33 657.36,252.33 657.74,252.34 658.13,252.34 658.51,252.34 658.89,252.34 659.28,252.34 659.66,252.34 660.05,252.34 660.43,252.34 660.81,252.35 661.20,252.35 661.58,252.35 661.97,252.35 662.35,252.35 662.73,252.35 663.12,252.35 663.50,252.35 663.89,252.36 664.27,252.36 664.65,252.36 665.04,252.36 665.42,252.36 665.81,252.36 666.19,252.36 666.57,252.37 666.96,252.37 667.34,252.37 667.73,252.37 668.11,252.37 668.49,252.37 668.88,252.38 669.26,252.38 669.65,252.38 670.03,252.38 670.41,252.38 670.80,252.38 671.18,252.39 671.56,252.39 671.95,252.39 672.33,252.39 672.72,252.39 673.10,252.40 673.48,252.40 673.87,252.40 674.25,252.40 674.64,252.40 675.02,252.41 675.40,252.41 675.79,252.41 676.17,252.41 676.56,252.41 676.94,252.42 677.32,252.42 677.71,252.42 678.09,252.42 678.48,252.43 678.86,252.43 679.24,252.43 679.63,252.43 680.01,252.44 680.40,252.44 680.78,252.44 681.16,252.44 681.55,252.45 681.93,252.45 682.31,252.45 682.70,252.45 683.08,252.46 683.47,252.46 683.85,252.46 684.23,252.46 684.62,252.47 685.00,252.47 685.39,252.47 685.77,252.47 686.15,252.48 686.54,252.48 686.92,252.48 687.31,252.49 687.69,252.49 688.07,252.49 688.46,252.50 688.84,252.50 689.23,252.50 689.61,252.50 689.99,252.51 690.38,252.51 690.76,252.51 691.15,252.52 691.53,252.52 691.91,252.52 692.30,252.53 692.68,252.53 693.07,252.53 693.45,252.54 693.83,252.54 694.22,252.54 694.60,252.55 694.98,252.55 695.37,252.55 695.75,252.56 696.14,252.56 696.52,252.57 696.90,252.57 697.29,252.57 697.67,252.58 698.06,252.58 698.44,252.58 698.82,252.59 699.21,252.59 699.59,252.60 699.98,252.60 700.36,252.60 700.74,252.61 701.13,252.62 701.51,252.63 701.90,252.65 702.28,252.66 702.66,252.68 703.05,252.70 703.43,252.72 703.82,252.74 704.20,252.77 704.58,252.79 704.97,252.82 705.35,252.85 705.73,252.88 706.12,252.91 706.50,252.94 706.89,252.98 707.27,253.01 707.65,253.05 708.04,253.08 708.42,253.12 708.81,253.16 709.19,253.20 709.57,253.24 709.96,253.28 710.34,253.32 710.73,253.36 711.11,253.40 711.49,253.44 711.88,253.49 712.26,253.53 712.65,253.58 713.03,253.63 713.41,253.69 713.80,253.75 714.18,253.81 714.57,253.87 714.95,253.94 715.33,254.02 715.72,254.09 716.10,254.17 716.48,254.24 716.87,254.32 717.25,254.41 717.64,254.49 718.02,254.57 718.40,254.65 718.79,254.74 719.17,254.82 719.56,254.90 719.94,254.99 720.32,255.07 720.71,255.15 721.09,255.24 721.48,255.32 721.86,255.40 722.24,255.49 722.63,255.58 723.01,255.67 723.40,255.76 723.78,255.85 724.16,255.94 724.55,256.04 724.93,256.13 725.32,256.23 725.70,256.33 726.08,256.44 726.47,256.54 726.85,256.65 727.24,256.77 727.62,256.88 728.00,257.00 728.39,257.12 728.77,257.24 729.15,257.37 729.54,257.50 729.92,257.63 730.31,257.77 730.69,257.91 731.07,258.07 731.46,258.23 731.84,258.40 732.23,258.59 732.61,258.78 732.99,259.00 733.38,259.24 733.76,259.53 734.15,259.87 734.53,260.23 734.91,260.61 735.30,261.00 735.68,261.39 736.07,261.77 736.45,262.14 736.83,262.51 737.22,262.89 737.60,263.26 737.99,263.64 738.37,264.02 738.75,264.41 739.14,264.79 739.52,265.19 739.90,265.58 740.29,265.97 740.67,266.37 741.06,266.78 741.44,267.18 741.82,267.59 742.21,268.00 742.59,268.42 742.98,268.84 743.36,269.26 743.74,269.69 744.13,270.12 744.51,270.56 744.90,271.00" fill="none" stroke="#0a3cff" stroke-width="1.0"/>
<path d="M650.97 251.80V261.80M648.37 251.80H653.57M648.37 261.80H653.57" stroke="#0a3cff" stroke-width="0.9" fill="none"/>
<path d="M677.06 237.40V254.00M674.46 237.40H679.66M674.46 254.00H679.66" stroke="#0a3cff" stroke-width="0.9" fill="none"/>
<path d="M697.93 245.50V251.00M695.33 245.50H700.53M695.33 251.00H700.53" stroke="#0a3cff" stroke-width="0.9" fill="none"/>
<path d="M703.15 244.30V255.00M700.55 244.30H705.75M700.55 255.00H705.75" stroke="#0a3cff" stroke-width="0.9" fill="none"/>
<path d="M734.46 259.00V269.30M731.86 259.00H737.06M731.86 269.30H737.06" stroke="#0a3cff" stroke-width="0.9" fill="none"/>
<circle cx="630.10" cy="262.40" r="2.4" fill="#0a3cff"/>
<circle cx="635.32" cy="262.80" r="2.4" fill="#0a3cff"/>
<circle cx="640.54" cy="263.80" r="2.4" fill="#0a3cff"/>
<circle cx="645.75" cy="252.70" r="2.4" fill="#0a3cff"/>
<circle cx="650.97" cy="256.80" r="2.4" fill="#0a3cff"/>
<circle cx="656.19" cy="251.60" r="2.4" fill="#0a3cff"/>
<circle cx="661.41" cy="249.70" r="2.4" fill="#0a3cff"/>
<circle cx="666.63" cy="250.40" r="2.4" fill="#0a3cff"/>
<circle cx="671.84" cy="249.30" r="2.4" fill="#0a3cff"/>
<circle cx="677.06" cy="246.00" r="2.4" fill="#0a3cff"/>
<circle cx="682.28" cy="247.30" r="2.4" fill="#0a3cff"/>
<circle cx="687.50" cy="243.20" r="2.4" fill="#0a3cff"/>
<circle cx="692.72" cy="249.30" r="2.4" fill="#0a3cff"/>
<circle cx="697.93" cy="248.20" r="2.4" fill="#0a3cff"/>
<circle cx="703.15" cy="249.70" r="2.4" fill="#0a3cff"/>
<circle cx="708.37" cy="251.00" r="2.4" fill="#0a3cff"/>
<circle cx="713.59" cy="251.80" r="2.4" fill="#0a3cff"/>
<circle cx="718.81" cy="253.00" r="2.4" fill="#0a3cff"/>
<circle cx="724.02" cy="257.20" r="2.4" fill="#0a3cff"/>
<circle cx="729.24" cy="257.20" r="2.4" fill="#0a3cff"/>
<circle cx="734.46" cy="264.20" r="2.4" fill="#0a3cff"/>
<circle cx="739.68" cy="259.70" r="2.4" fill="#0a3cff"/>
<circle cx="744.90" cy="271.20" r="2.4" fill="#0a3cff"/>
</svg>
</body></html>
